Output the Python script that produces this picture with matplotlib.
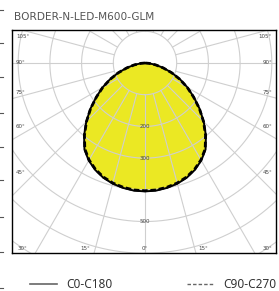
import numpy as np
import matplotlib
matplotlib.use("Agg")
import matplotlib.pyplot as plt
from matplotlib.lines import Line2D

# photometric data (cd/klm), gamma angle from nadir
gamma = [0, 5, 10, 15, 20, 25, 30, 35, 40, 45, 50, 55, 60, 65, 70, 75, 80, 85, 90]
c0_c180 = [405, 404, 400, 394, 385, 372, 355, 333, 299, 262, 225, 188, 155, 122, 90, 60, 35, 14, 0]
c90_c270 = [403, 402, 398, 392, 383, 370, 353, 331, 297, 261, 224, 187, 154, 121, 89, 59, 34, 13, 0]

ring_values = [100, 200, 300, 400, 500, 600, 700]
ring_labels = {200: "200", 300: "300", 500: "500"}
spoke_step = 15
title = "BORDER-N-LED-M600-GLM"

W, H = 279, 291
fig = plt.figure(figsize=(W / 100, H / 100), dpi=100)


def fx(x):
    return x / W


def fy(y):
    return 1 - y / H


# frame box (also used as clip region)
frame_l, frame_r, frame_t, frame_b = 12, 276, 29.5, 253
ax_frame = fig.add_axes([fx(frame_l), fy(frame_b), fx(frame_r - frame_l), (frame_b - frame_t) / H])
ax_frame.set_facecolor("none")
ax_frame.set_xticks([])
ax_frame.set_yticks([])
for s in ax_frame.spines.values():
    s.set_color("black")
    s.set_linewidth(1.0)
ax_frame.set_zorder(5)

# polar axes centred on the light source
cx, cy, R = 145, 63, 240
rmax = 757
ax = fig.add_axes([fx(cx - R), fy(cy + R), 2 * R / W, 2 * R / H], projection="polar")
ax.set_theta_zero_location("S")
ax.set_ylim(0, rmax)
ax.grid(False)
ax.set_xticks([])
ax.set_yticks([])
ax.spines["polar"].set_visible(False)
ax.patch.set_visible(False)

clip = ax_frame.patch

g = np.radians(gamma)
theta = np.concatenate([-g[::-1], g[1:]])
r_c0 = np.concatenate([np.array(c0_c180)[::-1], np.array(c0_c180)[1:]])
r_c90 = np.concatenate([np.array(c90_c270)[::-1], np.array(c90_c270)[1:]])

fill = ax.fill(theta, r_c0, color="#ebe823", zorder=1, lw=0)
for p in fill:
    p.set_clip_path(clip)

# grid
grid_kw = dict(color="#cfcfcf", lw=0.8, zorder=2)
circ = np.linspace(0, 2 * np.pi, 361)
for rv in ring_values:
    (ln,) = ax.plot(circ, np.full_like(circ, rv), **grid_kw)
    ln.set_clip_path(clip)
for a in range(0, 360, spoke_step):
    (ln,) = ax.plot([np.radians(a)] * 2, [ring_values[0], rmax], **grid_kw)
    ln.set_clip_path(clip)

(l1,) = ax.plot(theta, r_c0, color="black", lw=1.4, zorder=3)
(l2,) = ax.plot(theta, r_c90, color="black", lw=2.0, ls=(0, (2, 1)), zorder=4)
l1.set_clip_path(clip)
l2.set_clip_path(clip)

for rv, txt in ring_labels.items():
    ax.text(0, rv, txt, ha="center", va="center", fontsize=4, color="#444444", zorder=4)

# angle labels around the frame
lab_kw = dict(fontsize=4, color="#444444", va="center", zorder=10)
left_labels = [("105°", 36.7), ("90°", 62.7), ("75°", 93), ("60°", 127), ("45°", 172)]
for txt, y in left_labels:
    fig.text(fx(16), fy(y), txt, ha="left", **lab_kw)
    fig.text(fx(272), fy(y), txt, ha="right", **lab_kw)
bottom_labels = [("30°", 22.5), ("15°", 85), ("0°", 145), ("15°", 203), ("30°", 267.5)]
for txt, x in bottom_labels:
    fig.text(fx(x), fy(248), txt, ha="center", **lab_kw)

fig.text(fx(14), fy(16.5), title, ha="left", va="center", fontsize=7.6, color="#555555")

# small marks at the left edge
for y in [10, 43, 77, 113, 147, 180, 217, 252, 288]:
    fig.add_artist(Line2D([0, fx(2.5)], [fy(y), fy(y)], color="#555555", lw=0.8))

# legend
h1 = Line2D([], [], color="#666666", lw=1.2)
h2 = Line2D([], [], color="#666666", lw=1.0, ls=(0, (2.5, 1.5)))
leg_kw = dict(frameon=False, handlelength=2.3, handletextpad=0.8,
              borderpad=0, borderaxespad=0, loc="center left", labelcolor="#333333",
              prop={"family": "Noto Sans", "size": 8.5})
leg1 = fig.legend([h1], ["C0-C180"], bbox_to_anchor=(fx(30), fy(285)), **leg_kw)
leg2 = fig.legend([h2], ["C90-C270"], bbox_to_anchor=(fx(187), fy(285)), **leg_kw)

fig.savefig("out.png", dpi=100)
